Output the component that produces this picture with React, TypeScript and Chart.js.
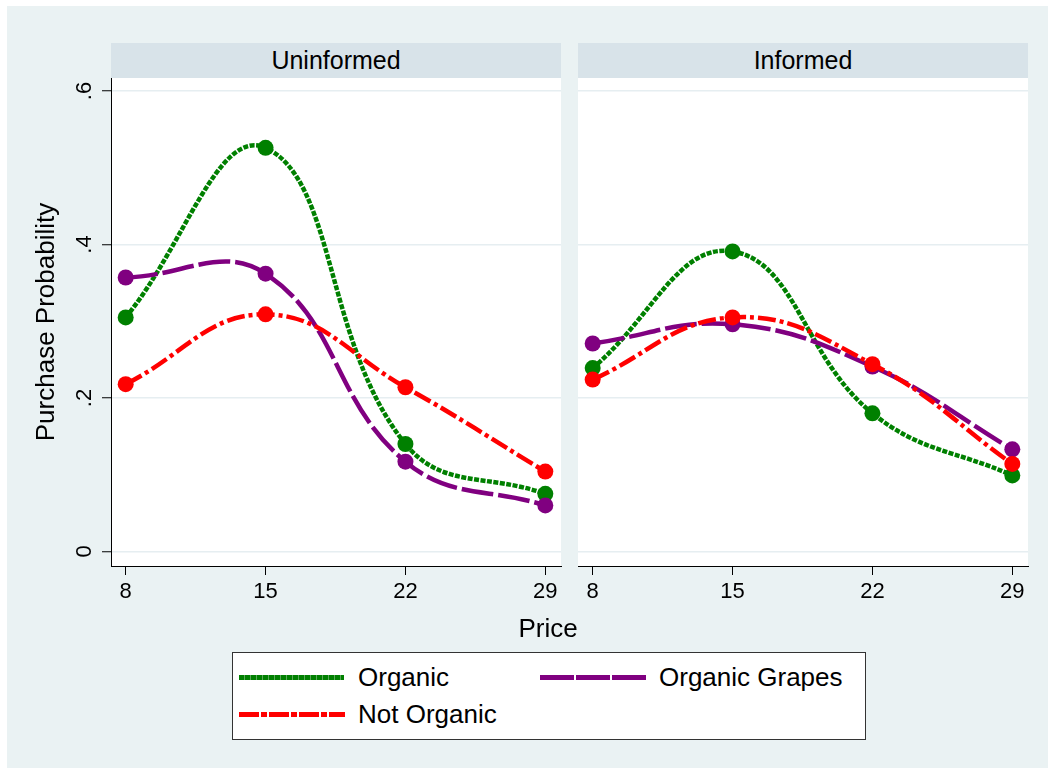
import React, { useEffect, useRef } from "react";
import { Chart, registerables } from "chart.js";

Chart.register(...registerables);

// ---- data ----
const prices = [8, 15, 22, 29];
const uninformedOrganic = [0.305, 0.526, 0.14, 0.075];
const uninformedGrapes = [0.357, 0.362, 0.117, 0.06];
const uninformedNotOrganic = [0.218, 0.309, 0.214, 0.104];
const informedOrganic = [0.239, 0.391, 0.18, 0.099];
const informedGrapes = [0.271, 0.296, 0.241, 0.133];
const informedNotOrganic = [0.224, 0.305, 0.244, 0.114];
const yTicks = [0, 0.2, 0.4, 0.6];
const yTickLabels = ["0", ".2", ".4", ".6"];
const panelTitles = ["Uninformed", "Informed"];
const seriesNames = ["Organic", "Organic Grapes", "Not Organic"];

const FONT = '"Liberation Sans", Arial, Helvetica, sans-serif';
const GREEN = "#008000";
const PURPLE = "#800080";
const RED = "#ff0000";

const whiteArea = {
  id: "whiteArea",
  beforeDraw(chart: any) {
    const { ctx, chartArea: a } = chart;
    ctx.save();
    ctx.fillStyle = "#ffffff";
    ctx.fillRect(a.left, a.top, a.right - a.left, a.bottom - a.top);
    ctx.restore();
  },
};

function toPts(vals: number[]) {
  return prices.map((p, i) => ({ x: p, y: vals[i] }));
}

function makeChart(
  canvas: HTMLCanvasElement,
  organic: number[],
  grapes: number[],
  notOrganic: number[],
  showY: boolean
) {
  const common = {
    fill: false,
    tension: 0.42,
    borderWidth: 4.5,
    pointRadius: 8,
    pointBorderWidth: 0,
    pointHoverRadius: 8,
  };
  return new Chart(canvas, {
    type: "line",
    data: {
      datasets: [
        {
          ...common,
          label: seriesNames[2],
          data: toPts(notOrganic),
          borderColor: RED,
          backgroundColor: RED,
          pointBackgroundColor: RED,
          borderDash: [18, 4, 4, 4],
        },
        {
          ...common,
          label: seriesNames[1],
          data: toPts(grapes),
          borderColor: PURPLE,
          backgroundColor: PURPLE,
          pointBackgroundColor: PURPLE,
          borderDash: [32, 5],
        },
        {
          ...common,
          label: seriesNames[0],
          data: toPts(organic),
          borderColor: GREEN,
          backgroundColor: GREEN,
          pointBackgroundColor: GREEN,
          borderDash: [5, 1.5],
        },
      ],
    },
    options: {
      animation: false,
      responsive: false,
      devicePixelRatio: 1,
      layout: { padding: { left: 0, top: 78, right: showY ? 9 : 26, bottom: 0 } },
      plugins: { legend: { display: false }, tooltip: { enabled: false } },
      scales: {
        x: {
          type: "linear",
          min: 7.265,
          max: 29.785,
          afterBuildTicks: (s: any) => {
            s.ticks = prices.map((v) => ({ value: v }));
          },
          afterFit: (s: any) => {
            s.height = 54;
          },
          ticks: {
            autoSkip: false,
            maxRotation: 0,
            padding: 4,
            color: "#000",
            font: { size: 22, family: FONT },
            callback: (v: any) => String(v),
          },
          grid: {
            drawOnChartArea: false,
            tickLength: 9,
            tickColor: "#000",
            tickWidth: 1,
          },
          border: { display: true, color: "#000", width: 1 },
        },
        y: {
          type: "linear",
          min: -0.019,
          max: 0.617,
          afterBuildTicks: (s: any) => {
            s.ticks = yTicks.map((v) => ({ value: v }));
          },
          afterFit: (s: any) => {
            s.width = showY ? 111 : 8;
          },
          ticks: {
            display: showY,
            minRotation: 90,
            maxRotation: 90,
            crossAlign: "center",
            padding: 8,
            color: "#000",
            font: { size: 22, family: FONT },
            callback: (_v: any, i: number) => yTickLabels[i],
          },
          grid: {
            color: "#e6eef1",
            lineWidth: 1.5,
            drawTicks: showY,
            tickLength: 9,
            tickColor: "#000",
            tickWidth: 1,
          },
          border: { display: showY, color: "#000", width: 1 },
          title: {
            display: showY,
            text: "Purchase Probability",
            color: "#000",
            font: { size: 26, family: FONT },
            padding: { top: 31, bottom: 0 },
          },
        },
      },
    },
    plugins: [whiteArea],
  } as any);
}

export default function App() {
  const leftRef = useRef<HTMLCanvasElement>(null);
  const rightRef = useRef<HTMLCanvasElement>(null);

  useEffect(() => {
    const c1 = makeChart(leftRef.current!, uninformedOrganic, uninformedGrapes, uninformedNotOrganic, true);
    const c2 = makeChart(rightRef.current!, informedOrganic, informedGrapes, informedNotOrganic, false);
    return () => {
      c1.destroy();
      c2.destroy();
    };
  }, []);

  const text = (extra: React.CSSProperties): React.CSSProperties => ({
    position: "absolute",
    fontFamily: FONT,
    color: "#000",
    whiteSpace: "nowrap",
    lineHeight: "30px",
    fontSize: 26,
    ...extra,
  });

  return (
    <div style={{ position: "absolute", left: 0, top: 0, width: 1054, height: 773, background: "#fff", overflow: "hidden" }}>
      <div style={{ position: "absolute", left: 7, top: 6, width: 1041, height: 762, background: "#eaf2f3" }} />
      {/* panel title strips */}
      <div style={{ position: "absolute", left: 111, top: 43, width: 450, height: 35, background: "#d8e3e9", display: "flex", alignItems: "center", justifyContent: "center", fontFamily: FONT, fontSize: 25 }}>
        {panelTitles[0]}
      </div>
      <div style={{ position: "absolute", left: 578, top: 43, width: 450, height: 35, background: "#d8e3e9", display: "flex", alignItems: "center", justifyContent: "center", fontFamily: FONT, fontSize: 25 }}>
        {panelTitles[1]}
      </div>
      <canvas ref={leftRef} width={570} height={620} style={{ position: "absolute", left: 0, top: 0, width: 570, height: 620 }} />
      <canvas ref={rightRef} width={484} height={620} style={{ position: "absolute", left: 570, top: 0, width: 484, height: 620 }} />
      {/* x-axis title */}
      <div style={text({ left: 448, width: 200, top: 613, textAlign: "center" })}>Price</div>
      {/* legend */}
      <div style={{ position: "absolute", left: 232, top: 652, width: 632, height: 86, background: "#fff", border: "1px solid #333" }} />
      <div style={{ position: "absolute", left: 239, top: 674.5, width: 105, height: 5, background: `repeating-linear-gradient(to right, ${GREEN} 0 5px, #5aa85a 5px 6px)` }} />
      <div style={text({ left: 358, top: 662 })}>{seriesNames[0]}</div>
      <div style={{ position: "absolute", left: 540, top: 674.5, width: 106, height: 5, background: `repeating-linear-gradient(to right, ${PURPLE} 0 34px, #ffffff 34px 36px)` }} />
      <div style={text({ left: 659, top: 662 })}>{seriesNames[1]}</div>
      <div style={{ position: "absolute", left: 239, top: 711.5, width: 106, height: 5, background: `repeating-linear-gradient(to right, ${RED} 0 20px, #ffffff 20px 22px, ${RED} 22px 28px, #ffffff 28px 30px)` }} />
      <div style={text({ left: 358, top: 699 })}>{seriesNames[2]}</div>
    </div>
  );
}
